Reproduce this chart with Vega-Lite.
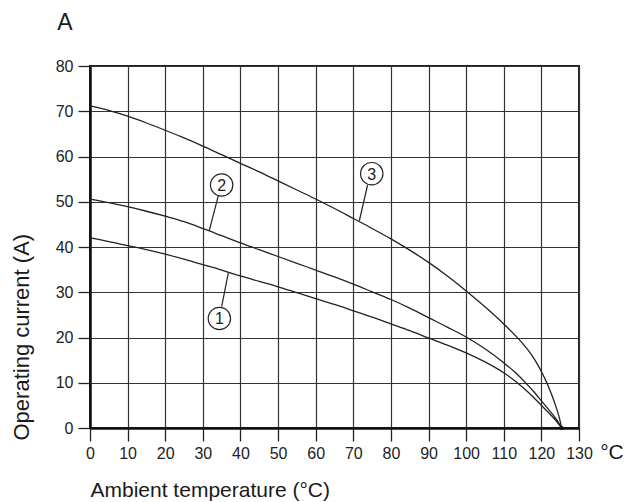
{
  "$schema": "https://vega.github.io/schema/vega-lite/v6.json",
  "width": 489,
  "height": 362,
  "autosize": {"type": "none"},
  "padding": {"left": 90, "top": 66, "right": 46, "bottom": 74},
  "background": "white",
  "config": {
    "view": {"stroke": "#222", "strokeWidth": 2},
    "axis": {
      "labelFont": "Liberation Sans", "labelFontSize": 16, "labelColor": "#222",
      "labelFlush": false, "labelOverlap": false,
      "tickColor": "#222", "tickWidth": 1.3,
      "domainColor": "#111", "domainWidth": 2.5,
      "grid": true, "gridColor": "#333", "gridWidth": 1.2, "gridOpacity": 1,
      "titleFont": "Liberation Sans", "titleFontWeight": "normal", "titleColor": "#1a1a1a"
    },
    "axisX": {"tickSize": 13, "labelPadding": 4},
    "axisY": {"tickSize": 12, "labelPadding": 5}
  },
  "datasets": {
    "curves": [
      {"curve": "1", "t": 0, "i": 42.0}, {"curve": "1", "t": 5, "i": 41.2}, {"curve": "1", "t": 10, "i": 40.3}, {"curve": "1", "t": 15, "i": 39.4},
      {"curve": "1", "t": 20, "i": 38.4}, {"curve": "1", "t": 25, "i": 37.3}, {"curve": "1", "t": 30, "i": 36.1}, {"curve": "1", "t": 35, "i": 34.9},
      {"curve": "1", "t": 40, "i": 33.6}, {"curve": "1", "t": 45, "i": 32.4}, {"curve": "1", "t": 50, "i": 31.2}, {"curve": "1", "t": 55, "i": 29.9},
      {"curve": "1", "t": 60, "i": 28.6}, {"curve": "1", "t": 65, "i": 27.3}, {"curve": "1", "t": 70, "i": 25.9}, {"curve": "1", "t": 75, "i": 24.5},
      {"curve": "1", "t": 80, "i": 23.0}, {"curve": "1", "t": 85, "i": 21.5}, {"curve": "1", "t": 90, "i": 19.9}, {"curve": "1", "t": 95, "i": 18.3},
      {"curve": "1", "t": 100, "i": 16.6}, {"curve": "1", "t": 105, "i": 14.6}, {"curve": "1", "t": 110, "i": 12.2}, {"curve": "1", "t": 113, "i": 10.4},
      {"curve": "1", "t": 116, "i": 8.3}, {"curve": "1", "t": 118, "i": 6.7}, {"curve": "1", "t": 120, "i": 5.0}, {"curve": "1", "t": 122, "i": 3.3},
      {"curve": "1", "t": 124, "i": 1.5}, {"curve": "1", "t": 125.4, "i": 0},
      {"curve": "2", "t": 0, "i": 50.6}, {"curve": "2", "t": 5, "i": 49.8}, {"curve": "2", "t": 10, "i": 48.9}, {"curve": "2", "t": 15, "i": 47.9},
      {"curve": "2", "t": 20, "i": 46.8}, {"curve": "2", "t": 25, "i": 45.6}, {"curve": "2", "t": 30, "i": 44.1}, {"curve": "2", "t": 35, "i": 42.5},
      {"curve": "2", "t": 40, "i": 40.9}, {"curve": "2", "t": 45, "i": 39.4}, {"curve": "2", "t": 50, "i": 37.9}, {"curve": "2", "t": 55, "i": 36.4},
      {"curve": "2", "t": 60, "i": 34.9}, {"curve": "2", "t": 65, "i": 33.4}, {"curve": "2", "t": 70, "i": 31.8}, {"curve": "2", "t": 75, "i": 30.1},
      {"curve": "2", "t": 80, "i": 28.4}, {"curve": "2", "t": 85, "i": 26.5}, {"curve": "2", "t": 90, "i": 24.4}, {"curve": "2", "t": 95, "i": 22.3},
      {"curve": "2", "t": 100, "i": 20.1}, {"curve": "2", "t": 105, "i": 17.5}, {"curve": "2", "t": 110, "i": 14.4}, {"curve": "2", "t": 113, "i": 12.3},
      {"curve": "2", "t": 116, "i": 9.8}, {"curve": "2", "t": 118, "i": 8.0}, {"curve": "2", "t": 120, "i": 6.0}, {"curve": "2", "t": 122, "i": 4.0},
      {"curve": "2", "t": 124, "i": 1.9}, {"curve": "2", "t": 125.4, "i": 0},
      {"curve": "3", "t": 0, "i": 71.2}, {"curve": "3", "t": 5, "i": 70.2}, {"curve": "3", "t": 10, "i": 68.9}, {"curve": "3", "t": 15, "i": 67.4},
      {"curve": "3", "t": 20, "i": 65.8}, {"curve": "3", "t": 25, "i": 64.1}, {"curve": "3", "t": 30, "i": 62.3}, {"curve": "3", "t": 35, "i": 60.4},
      {"curve": "3", "t": 40, "i": 58.5}, {"curve": "3", "t": 45, "i": 56.6}, {"curve": "3", "t": 50, "i": 54.6}, {"curve": "3", "t": 55, "i": 52.6},
      {"curve": "3", "t": 60, "i": 50.6}, {"curve": "3", "t": 65, "i": 48.5}, {"curve": "3", "t": 70, "i": 46.3}, {"curve": "3", "t": 75, "i": 44.1},
      {"curve": "3", "t": 80, "i": 41.8}, {"curve": "3", "t": 85, "i": 39.3}, {"curve": "3", "t": 90, "i": 36.6}, {"curve": "3", "t": 95, "i": 33.6},
      {"curve": "3", "t": 100, "i": 30.3}, {"curve": "3", "t": 105, "i": 26.8}, {"curve": "3", "t": 110, "i": 23.0}, {"curve": "3", "t": 115, "i": 18.7},
      {"curve": "3", "t": 116, "i": 17.7}, {"curve": "3", "t": 117, "i": 16.6}, {"curve": "3", "t": 118, "i": 15.4}, {"curve": "3", "t": 119, "i": 14.0},
      {"curve": "3", "t": 120, "i": 12.5}, {"curve": "3", "t": 121, "i": 10.8}, {"curve": "3", "t": 122, "i": 8.9}, {"curve": "3", "t": 123, "i": 6.8},
      {"curve": "3", "t": 124, "i": 4.4}, {"curve": "3", "t": 124.8, "i": 2.2}, {"curve": "3", "t": 125.4, "i": 0}
    ],
    "leaders": [
      {"curve": "1", "t": 36.8, "i": 34.4, "t2": 35.0, "i2": 26.8},
      {"curve": "2", "t": 31.7, "i": 43.6, "t2": 34.1, "i2": 51.3},
      {"curve": "3", "t": 71.6, "i": 45.8, "t2": 73.8, "i2": 53.7}
    ],
    "markers": [
      {"curve": "1", "t": 34.4, "i": 24.2},
      {"curve": "2", "t": 35.0, "i": 53.7},
      {"curve": "3", "t": 74.9, "i": 56.2}
    ],
    "end": [{"t": 125.4, "i": 0}],
    "unitY": [{"label": "A", "t": 0, "i": 80}],
    "unitX": [{"label": "°C", "t": 130, "i": 0}]
  },
  "encoding": {
    "x": {
      "field": "t", "type": "quantitative",
      "scale": {"domain": [0, 130], "nice": false, "zero": false},
      "axis": {
        "values": [0, 10, 20, 30, 40, 50, 60, 70, 80, 90, 100, 110, 120, 130],
        "title": "Ambient temperature (°C)",
        "titleFontSize": 21,
        "titleAnchor": "start", "titleAlign": "left", "titleBaseline": "alphabetic", "titleX": 0, "titleY": 68
      }
    },
    "y": {
      "field": "i", "type": "quantitative",
      "scale": {"domain": [0, 80], "nice": false},
      "axis": {
        "values": [0, 10, 20, 30, 40, 50, 60, 70, 80],
        "title": "Operating current (A)",
        "titleFontSize": 22,
        "titleAnchor": "start", "titleAlign": "left", "titleBaseline": "alphabetic", "titleX": -62, "titleY": 374
      }
    }
  },
  "layer": [
    {
      "data": {"name": "curves"},
      "mark": {"type": "line", "interpolate": "monotone", "color": "#222", "strokeWidth": 1.3},
      "encoding": {"detail": {"field": "curve"}}
    },
    {
      "data": {"name": "leaders"},
      "mark": {"type": "rule", "color": "#222", "strokeWidth": 1.2},
      "encoding": {"x2": {"field": "t2"}, "y2": {"field": "i2"}}
    },
    {
      "data": {"name": "markers"},
      "mark": {"type": "point", "shape": "circle", "filled": false, "size": 500, "stroke": "#222", "strokeWidth": 1.2, "opacity": 1},
      "encoding": {}
    },
    {
      "data": {"name": "markers"},
      "mark": {"type": "text", "font": "Liberation Sans", "fontSize": 16, "color": "#222", "align": "center", "baseline": "middle", "dy": 1},
      "encoding": {"text": {"field": "curve"}}
    },
    {
      "data": {"name": "end"},
      "mark": {"type": "point", "shape": "circle", "filled": true, "size": 16, "color": "#111", "opacity": 1},
      "encoding": {}
    },
    {
      "data": {"name": "unitY"},
      "mark": {"type": "text", "font": "Liberation Sans", "fontSize": 23, "color": "#1a1a1a", "align": "center", "baseline": "middle", "dx": -25, "dy": -43},
      "encoding": {"text": {"field": "label"}}
    },
    {
      "data": {"name": "unitX"},
      "mark": {"type": "text", "font": "Liberation Sans", "fontSize": 21, "color": "#1a1a1a", "align": "center", "baseline": "middle", "dx": 33, "dy": 25},
      "encoding": {"text": {"field": "label"}}
    }
  ]
}
